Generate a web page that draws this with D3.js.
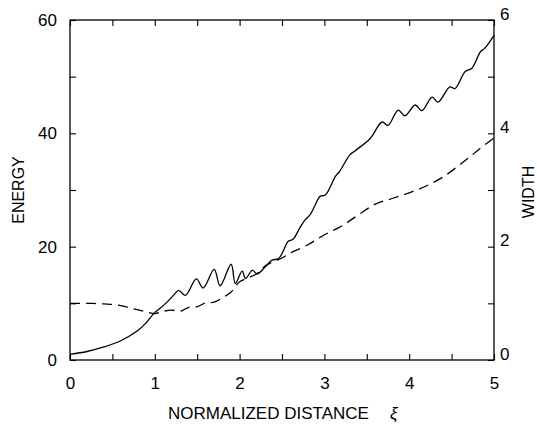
<!DOCTYPE html>
<html>
<head>
<meta charset="utf-8">
<script src="https://cdn.jsdelivr.net/npm/d3@7"></script>
<style>
  body { margin: 0; background: #fff; }
  text { font-family: "Liberation Sans", Arial, Helvetica, sans-serif; fill: #000; }
</style>
</head>
<body>
<div class="chart"></div>
<script>
// energy (solid, left axis) and width (dashed, right axis) vs normalized distance
var energy_xi = [0, 0.2, 0.4, 0.6, 0.8, 0.9, 1.0, 1.07, 1.15, 1.22, 1.28, 1.36, 1.49, 1.57, 1.70, 1.77, 1.90, 1.95, 2.03, 2.07, 2.15, 2.21, 2.30, 2.38, 2.46, 2.52, 2.57, 2.63, 2.71, 2.77, 2.83, 2.89, 2.95, 3.01, 3.13, 3.18, 3.30, 3.36, 3.54, 3.68, 3.75, 3.87, 3.95, 4.07, 4.15, 4.27, 4.34, 4.48, 4.54, 4.66, 4.74, 4.84, 4.89, 5.0];
var energy = [1.0, 1.5, 2.3, 3.4, 5.2, 6.6, 8.4, 9.2, 10.3, 11.4, 12.3, 11.4, 14.3, 12.7, 16.0, 13.1, 16.9, 13.5, 15.7, 14.4, 15.8, 15.2, 16.4, 17.6, 17.9, 19.4, 20.9, 21.3, 23.3, 24.7, 25.6, 27.3, 28.9, 29.1, 32.4, 33.3, 36.2, 36.9, 39.1, 42.0, 41.4, 44.1, 43.1, 45.0, 44.0, 46.4, 45.5, 48.2, 47.9, 50.9, 51.5, 54.4, 55.0, 57.3];

var width_xi = [0, 0.2, 0.4, 0.57, 0.73, 0.87, 1.0, 1.1, 1.2, 1.3, 1.4, 1.5, 1.6, 1.7, 1.8, 1.9, 2.0, 2.1, 2.2, 2.3, 2.5, 2.6, 2.8, 3.0, 3.2, 3.4, 3.6, 3.8, 4.0, 4.2, 4.4, 4.6, 4.8, 5.0];
var width_val = [1.0, 1.0, 0.99, 0.97, 0.91, 0.86, 0.82, 0.86, 0.88, 0.86, 0.93, 0.94, 1.01, 1.02, 1.10, 1.20, 1.38, 1.45, 1.52, 1.66, 1.80, 1.89, 2.03, 2.21, 2.36, 2.56, 2.75, 2.85, 2.95, 3.07, 3.23, 3.45, 3.69, 3.92];

var x_ticks = [0, 0.5, 1, 1.5, 2, 2.5, 3, 3.5, 4, 4.5, 5];
var left_ticks = [0, 10, 20, 30, 40, 50, 60];
var right_ticks = [0, 1, 2, 3, 4, 5, 6];

var W = 537, H = 436;
var pL = 70, pR = 494, pT = 20, pB = 360;

var svg = d3.select(".chart")
            .append("svg")
            .attr("width", W)
            .attr("height", H);

var x = d3.scaleLinear().domain([0, 5]).range([pL, pR]);
var yL = d3.scaleLinear().domain([0, 60]).range([pB, pT]);
var yR = d3.scaleLinear().domain([0, 6]).range([pB, pT]);

// axes, ticks pointing inward
var gx = svg.append("g")
    .attr("transform", "translate(0," + pB + ")")
    .call(d3.axisBottom(x).tickValues(x_ticks).tickSize(-6).tickSizeOuter(0).tickPadding(17)
        .tickFormat(function(d) { return d % 1 === 0 ? d : ""; }));

var gt = svg.append("g")
    .attr("transform", "translate(0," + pT + ")")
    .call(d3.axisTop(x).tickValues(x_ticks).tickSize(-6).tickSizeOuter(0).tickFormat(""));

var gl = svg.append("g")
    .attr("transform", "translate(" + pL + ",0)")
    .call(d3.axisLeft(yL).tickValues(left_ticks).tickSize(-6).tickSizeOuter(0).tickPadding(13)
        .tickFormat(function(d) { return d % 20 === 0 ? d : ""; }));

var gr = svg.append("g")
    .attr("transform", "translate(" + pR + ",0)")
    .call(d3.axisRight(yR).tickValues(right_ticks).tickSize(-6).tickSizeOuter(0).tickPadding(6)
        .tickFormat(function(d) { return d % 2 === 0 ? d : ""; }));

[gx, gt, gl, gr].forEach(function(g) {
    g.select(".domain").remove();
    g.selectAll(".tick line").attr("stroke", "#000").attr("stroke-width", 1.1);
    g.selectAll(".tick text")
        .style("font-size", "17px")
        .attr("font-family", "Liberation Sans, Arial, sans-serif")
        .attr("fill", "#000");
});
gr.selectAll(".tick text").attr("dy", "-0.05em");

svg.append("rect")
    .attr("x", pL)
    .attr("y", pT)
    .attr("width", pR - pL)
    .attr("height", pB - pT)
    .attr("fill", "none")
    .attr("stroke", "#000")
    .attr("stroke-width", 1.3);

// curves
var lineE = d3.line()
    .x(function(d, i) { return x(energy_xi[i]); })
    .y(function(d) { return yL(d); })
    .curve(d3.curveCatmullRom.alpha(0.5));

var lineW = d3.line()
    .x(function(d, i) { return x(width_xi[i]); })
    .y(function(d) { return yR(d); })
    .curve(d3.curveCatmullRom.alpha(0.5));

svg.append("path")
    .attr("d", lineE(energy))
    .attr("fill", "none")
    .attr("stroke", "#000")
    .attr("stroke-width", 1.3);

svg.append("path")
    .attr("d", lineW(width_val))
    .attr("fill", "none")
    .attr("stroke", "#000")
    .attr("stroke-width", 1.3)
    .attr("stroke-dasharray", "10,6");

// axis titles
svg.append("text")
    .attr("transform", "translate(24,190) rotate(-90)")
    .attr("text-anchor", "middle")
    .style("font-size", "16px")
    .text("ENERGY");

svg.append("text")
    .attr("transform", "translate(534,192) rotate(-90)")
    .attr("text-anchor", "middle")
    .style("font-size", "16px")
    .text("WIDTH");

svg.append("text")
    .attr("x", 168)
    .attr("y", 419)
    .style("font-size", "17px")
    .text("NORMALIZED DISTANCE");

svg.append("text")
    .attr("x", 390)
    .attr("y", 419)
    .style("font-size", "17px")
    .style("font-style", "italic")
    .text("ξ");
</script>
</body>
</html>
